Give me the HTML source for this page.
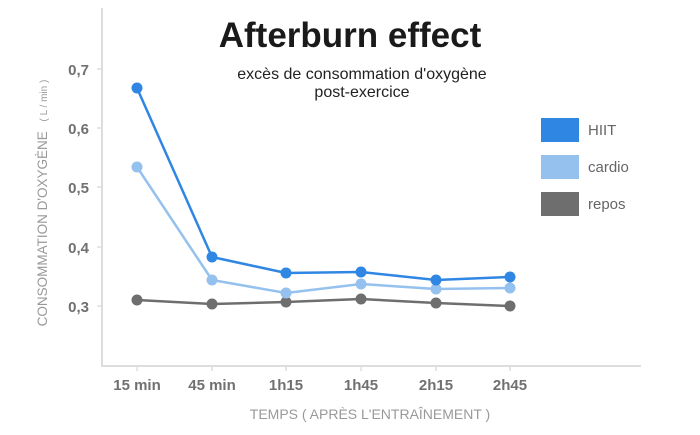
<!DOCTYPE html>
<html><head><meta charset="utf-8"><style>
body{margin:0;background:#fff;width:700px;height:430px;overflow:hidden}
text{font-family:"Liberation Sans",sans-serif}
</style></head><body>
<svg width="700" height="430" xmlns="http://www.w3.org/2000/svg">
<line x1="102" y1="8" x2="102" y2="366" stroke="#ddd" stroke-width="2"/>
<line x1="101" y1="366" x2="641" y2="366" stroke="#ddd" stroke-width="2"/>
<g stroke="#ddd" stroke-width="1.5">
<line x1="97" y1="69" x2="102" y2="69"/><line x1="97" y1="128" x2="102" y2="128"/><line x1="97" y1="187" x2="102" y2="187"/><line x1="97" y1="247" x2="102" y2="247"/><line x1="97" y1="306" x2="102" y2="306"/>
<line x1="137" y1="366" x2="137" y2="371"/><line x1="212" y1="366" x2="212" y2="371"/><line x1="286" y1="366" x2="286" y2="371"/><line x1="361" y1="366" x2="361" y2="371"/><line x1="436" y1="366" x2="436" y2="371"/><line x1="510" y1="366" x2="510" y2="371"/>
</g>
<g fill="#707070" font-weight="bold" font-size="15" text-anchor="end">
<text x="89" y="75">0,7</text><text x="89" y="134">0,6</text><text x="89" y="193">0,5</text><text x="89" y="253">0,4</text><text x="89" y="312">0,3</text>
</g>
<g fill="#707070" font-weight="bold" font-size="15" text-anchor="middle">
<text x="137" y="390">15 min</text><text x="212" y="390">45 min</text><text x="286" y="390">1h15</text><text x="361" y="390">1h45</text><text x="436" y="390">2h15</text><text x="510" y="390">2h45</text>
</g>
<text x="370" y="419" fill="#999" font-size="14" text-anchor="middle">TEMPS ( APRÈS L'ENTRAÎNEMENT )</text>
<text transform="translate(47,203) rotate(-90)" fill="#999" font-size="13.5" text-anchor="middle">CONSOMMATION D'OXYGÈNE  <tspan font-size="10" dx="6">( L / min )</tspan></text>
<text x="350" y="47" fill="#1a1a1a" font-size="35" font-weight="bold" text-anchor="middle">Afterburn effect</text>
<text x="362" y="79" fill="#222" font-size="16" text-anchor="middle">excès de consommation d'oxygène</text>
<text x="362" y="97" fill="#222" font-size="16" text-anchor="middle">post-exercice</text>
<polyline points="137,300 212,304 286,302 361,299 436,303 510,306" fill="none" stroke="#6e6e6e" stroke-width="2.5"/>
<polyline points="137,167 212,280 286,293 361,284 436,289 510,288" fill="none" stroke="#95c1ee" stroke-width="2.5"/>
<polyline points="137,88 212,257 286,273 361,272 436,280 510,277" fill="none" stroke="#2f86e3" stroke-width="2.5"/>
<g fill="#6e6e6e"><circle cx="137" cy="300" r="5.5"/><circle cx="212" cy="304" r="5.5"/><circle cx="286" cy="302" r="5.5"/><circle cx="361" cy="299" r="5.5"/><circle cx="436" cy="303" r="5.5"/><circle cx="510" cy="306" r="5.5"/></g>
<g fill="#95c1ee"><circle cx="137" cy="167" r="5.5"/><circle cx="212" cy="280" r="5.5"/><circle cx="286" cy="293" r="5.5"/><circle cx="361" cy="284" r="5.5"/><circle cx="436" cy="289" r="5.5"/><circle cx="510" cy="288" r="5.5"/></g>
<g fill="#2f86e3"><circle cx="137" cy="88" r="5.5"/><circle cx="212" cy="257" r="5.5"/><circle cx="286" cy="273" r="5.5"/><circle cx="361" cy="272" r="5.5"/><circle cx="436" cy="280" r="5.5"/><circle cx="510" cy="277" r="5.5"/></g>
<rect x="541" y="118" width="38" height="24" fill="#2f86e3"/>
<rect x="541" y="155" width="38" height="24" fill="#95c1ee"/>
<rect x="541" y="192" width="38" height="24" fill="#6e6e6e"/>
<g fill="#666" font-size="15">
<text x="588" y="135">HIIT</text><text x="588" y="172">cardio</text><text x="588" y="209">repos</text>
</g>
</svg>
</body></html>
